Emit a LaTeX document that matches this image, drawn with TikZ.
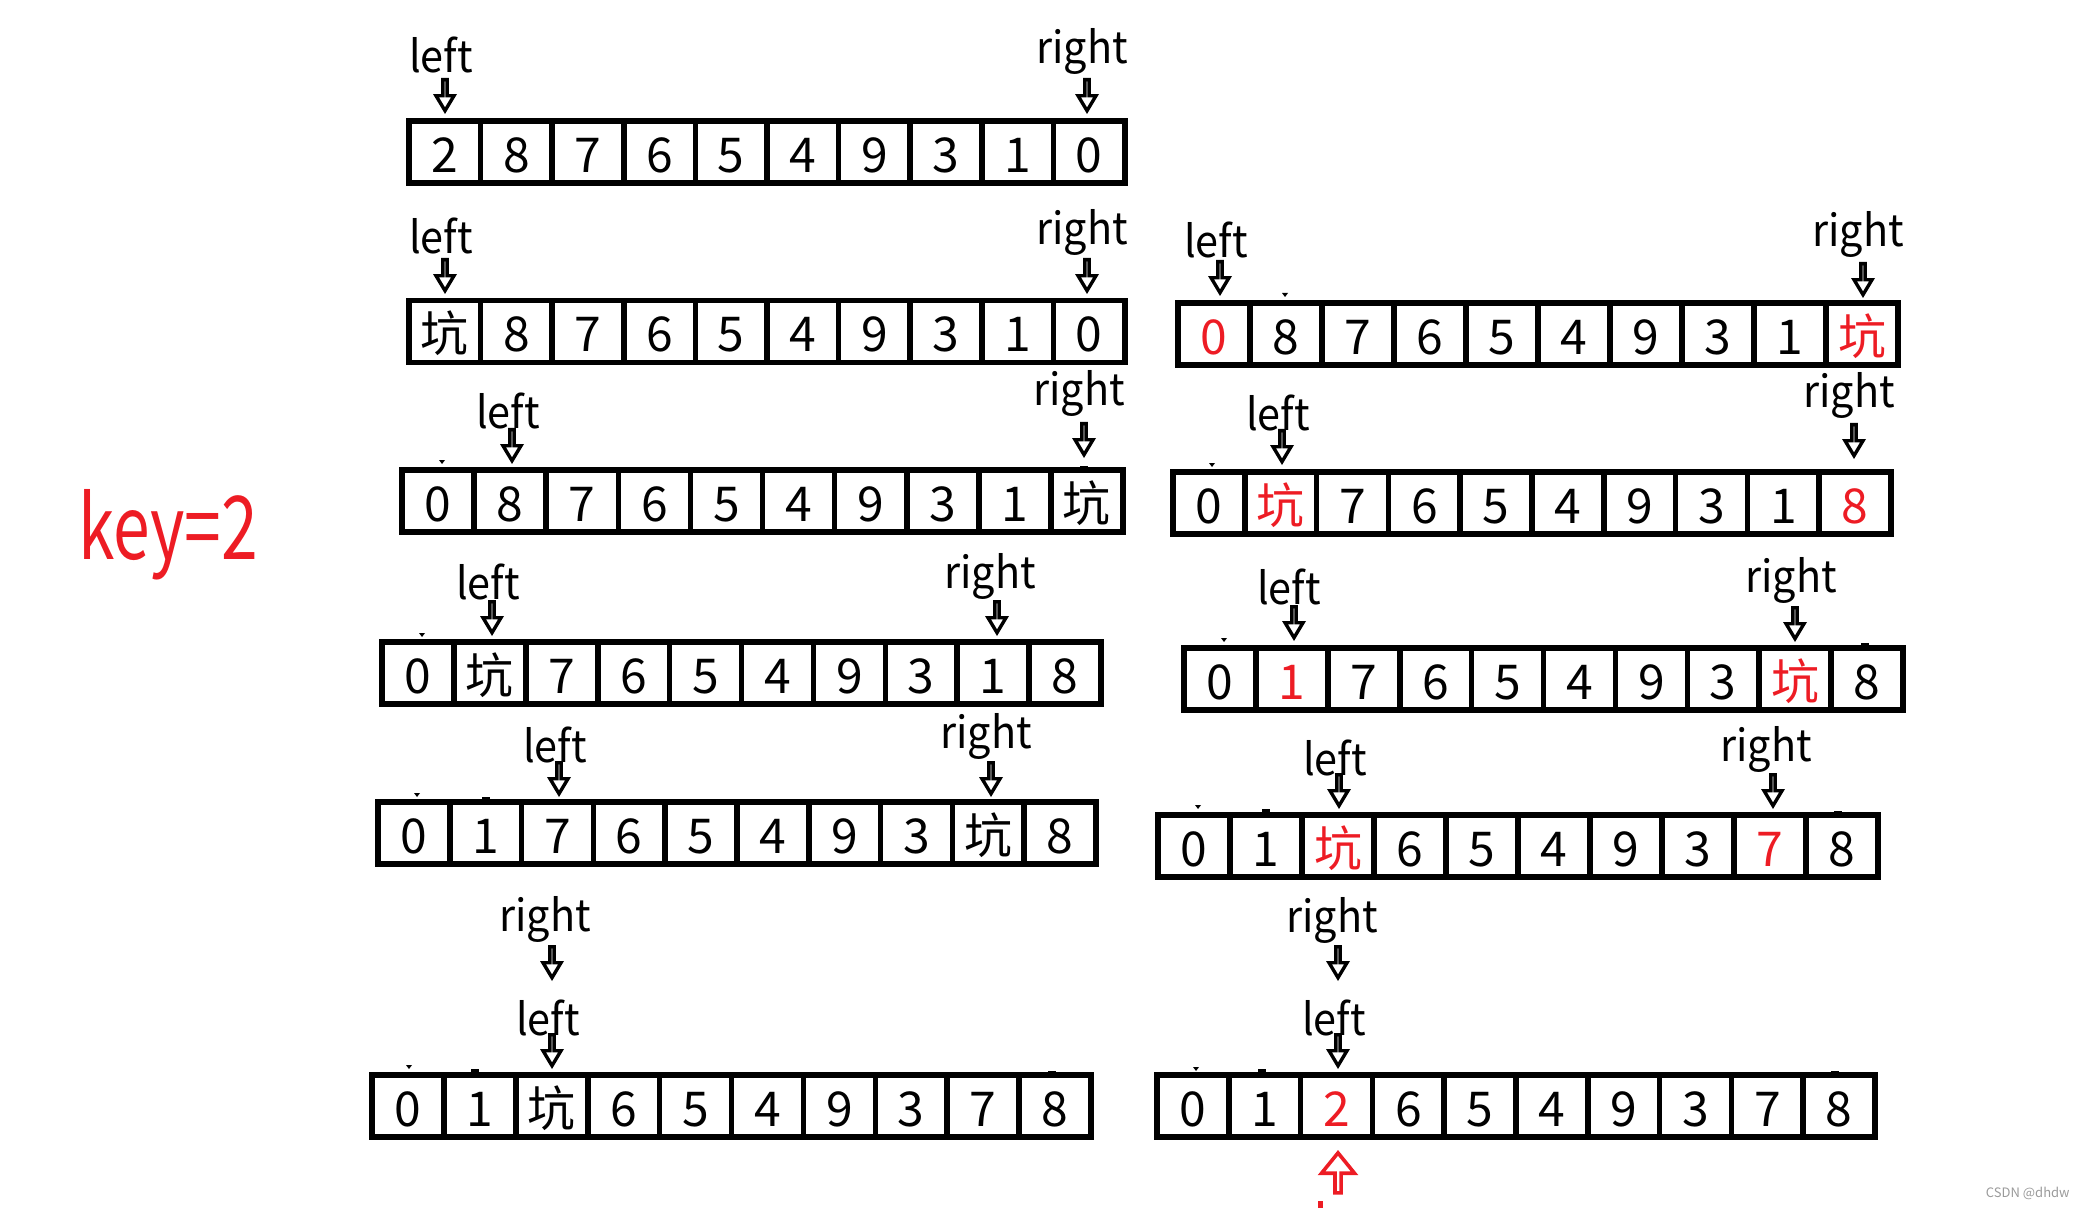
\documentclass[tikz,border=0pt]{standalone}
\usepackage{fontspec}
\setmainfont{Noto Sans CJK SC}
\usetikzlibrary{shapes.arrows}
\definecolor{kred}{HTML}{ED1C24}
\definecolor{wmgrey}{HTML}{9A9A9A}
\tikzset{
  cell/.style={draw, line width=2.8pt, inner sep=0pt, minimum height=31pt,
    font=\fontsize{24}{24}\selectfont, text height=20.5pt, text depth=0pt},
  ptr/.style={single arrow, draw, fill=white, line width=1.7pt, shape border rotate=270,
    minimum height=15.5pt, minimum width=9pt, inner xsep=0pt, inner ysep=1.9pt,
    single arrow head extend=2.7pt, single arrow tip angle=62, anchor=tip},
  redptr/.style={single arrow, draw=kred, fill=white, line width=1.8pt, shape border rotate=90,
    minimum height=20pt, minimum width=16.5pt, inner xsep=0pt, inner ysep=4.3pt,
    single arrow head extend=4pt, single arrow tip angle=78, anchor=tip},
  lbl/.style={font=\fontsize{22}{22}\selectfont, anchor=base, inner sep=0pt, xscale=0.94},
}
\newcommand{\arrayrow}[5]{%
  \pgfmathsetmacro{\cellw}{(#3-#2)/10}%
  \foreach \v [count=\i] in {#5} {
    \node[cell, minimum width={\cellw*0.5pt}] (#1c\i) at ({#2+(\i-0.5)*\cellw},#4) {\v};
  }}
\newcommand{\speck}[2]{\fill (#1-3,#2-3) -- (#1+3,#2-3) -- (#1,#2+1) -- cycle;}
\newcommand{\dashmark}[2]{\fill (#1-4,#2-1.5) rectangle (#1+4,#2+1.5);}
\newcommand{\pit}{坑}
\newcommand{\rd}[1]{\textcolor{kred}{#1}}
\begin{document}
\begin{tikzpicture}[x=0.5pt,y=-0.5pt]
\useasboundingbox (0,0) rectangle (2081,1208);

% key
\node[font=\fontsize{44}{44}\selectfont, text=kred, anchor=base, inner sep=0pt, xscale=0.75] (key) at (168,559) {key=2};

% ===== left column =====
\arrayrow{L1}{409}{1125}{152}{2,8,7,6,5,4,9,3,1,0}
\node[ptr] (L1la) at (445,114) {};
\node[ptr] (L1ra) at (1087,114) {};
\node[lbl] (L1l) at (441,73) {left};
\node[lbl] (L1r) at (1082,64) {right};

\arrayrow{L2}{409}{1125}{331.5}{\pit,8,7,6,5,4,9,3,1,0}
\node[ptr] (L2la) at (445,294) {};
\node[ptr] (L2ra) at (1087,294) {};
\node[lbl] (L2l) at (441,254) {left};
\node[lbl] (L2r) at (1082,245) {right};

\arrayrow{L3}{402}{1123}{501}{0,8,7,6,5,4,9,3,1,\pit}
\node[ptr] (L3la) at (512,464) {};
\node[ptr] (L3ra) at (1084,458) {};
\node[lbl] (L3l) at (508,429) {left};
\node[lbl] (L3r) at (1079,405) {right};

\arrayrow{L4}{382}{1101}{673}{0,\pit,7,6,5,4,9,3,1,8}
\node[ptr] (L4la) at (492,636) {};
\node[ptr] (L4ra) at (997,636) {};
\node[lbl] (L4l) at (488,599) {left};
\node[lbl] (L4r) at (990,588) {right};

\arrayrow{L5}{378}{1096}{833}{0,1,7,6,5,4,9,3,\pit,8}
\node[ptr] (L5la) at (559,797) {};
\node[ptr] (L5ra) at (991,797) {};
\node[lbl] (L5l) at (555,762) {left};
\node[lbl] (L5r) at (986,748) {right};

\arrayrow{L6}{372}{1091}{1106}{0,1,\pit,6,5,4,9,3,7,8}
\node[ptr] (L6ra) at (552,981) {};
\node[ptr] (L6la) at (552,1069) {};
\node[lbl] (L6r) at (545,931) {right};
\node[lbl] (L6l) at (548,1035) {left};

% ===== right column =====
\arrayrow{R2}{1178}{1898}{334}{\rd{0},8,7,6,5,4,9,3,1,\rd{\pit}}
\node[ptr] (R2la) at (1220,296) {};
\node[ptr] (R2ra) at (1863,298) {};
\node[lbl] (R2l) at (1216,258) {left};
\node[lbl] (R2r) at (1858,247) {right};

\arrayrow{R3}{1173}{1891}{503}{0,\rd{\pit},7,6,5,4,9,3,1,\rd{8}}
\node[ptr] (R3la) at (1282,465) {};
\node[ptr] (R3ra) at (1854,459) {};
\node[lbl] (R3l) at (1278,430) {left};
\node[lbl] (R3r) at (1849,408) {right};

\arrayrow{R4}{1184}{1903}{679}{0,\rd{1},7,6,5,4,9,3,\rd{\pit},8}
\node[ptr] (R4la) at (1294,641) {};
\node[ptr] (R4ra) at (1795,642) {};
\node[lbl] (R4l) at (1289,604) {left};
\node[lbl] (R4r) at (1791,592) {right};

\arrayrow{R5}{1158}{1878}{846}{0,1,\rd{\pit},6,5,4,9,3,\rd{7},8}
\node[ptr] (R5la) at (1339,809) {};
\node[ptr] (R5ra) at (1773,809) {};
\node[lbl] (R5l) at (1335,775) {left};
\node[lbl] (R5r) at (1766,761) {right};

\arrayrow{R6}{1157}{1875}{1106}{0,1,\rd{2},6,5,4,9,3,7,8}
\node[ptr] (R6ra) at (1338,981) {};
\node[ptr] (R6la) at (1338,1069) {};
\node[lbl] (R6r) at (1332,932) {right};
\node[lbl] (R6l) at (1334,1035) {left};

\node[redptr] (R6up) at (1338,1150) {};
\fill[kred] (1318,1201) rectangle (1323,1208);

% small specks
\speck{442}{463}\dashmark{1084}{467}
\speck{422}{636}\dashmark{1062}{640}
\speck{417}{796}\dashmark{486}{798}\dashmark{1058}{800}
\speck{409}{1068}\dashmark{475}{1070}\dashmark{1052}{1072}
\speck{1285}{296}
\speck{1212}{466}\dashmark{1854}{471}
\speck{1224}{641}\dashmark{1865}{644}
\speck{1198}{808}\dashmark{1266}{810}\dashmark{1838}{812}
\speck{1196}{1070}\dashmark{1262}{1070}\dashmark{1835}{1072}

% watermark
\node[font=\fontsize{6.5}{6.5}\selectfont, text=wmgrey, anchor=east, inner sep=0pt] (wm) at (2070,1193) {CSDN @dhdw};
\end{tikzpicture}
\end{document}
